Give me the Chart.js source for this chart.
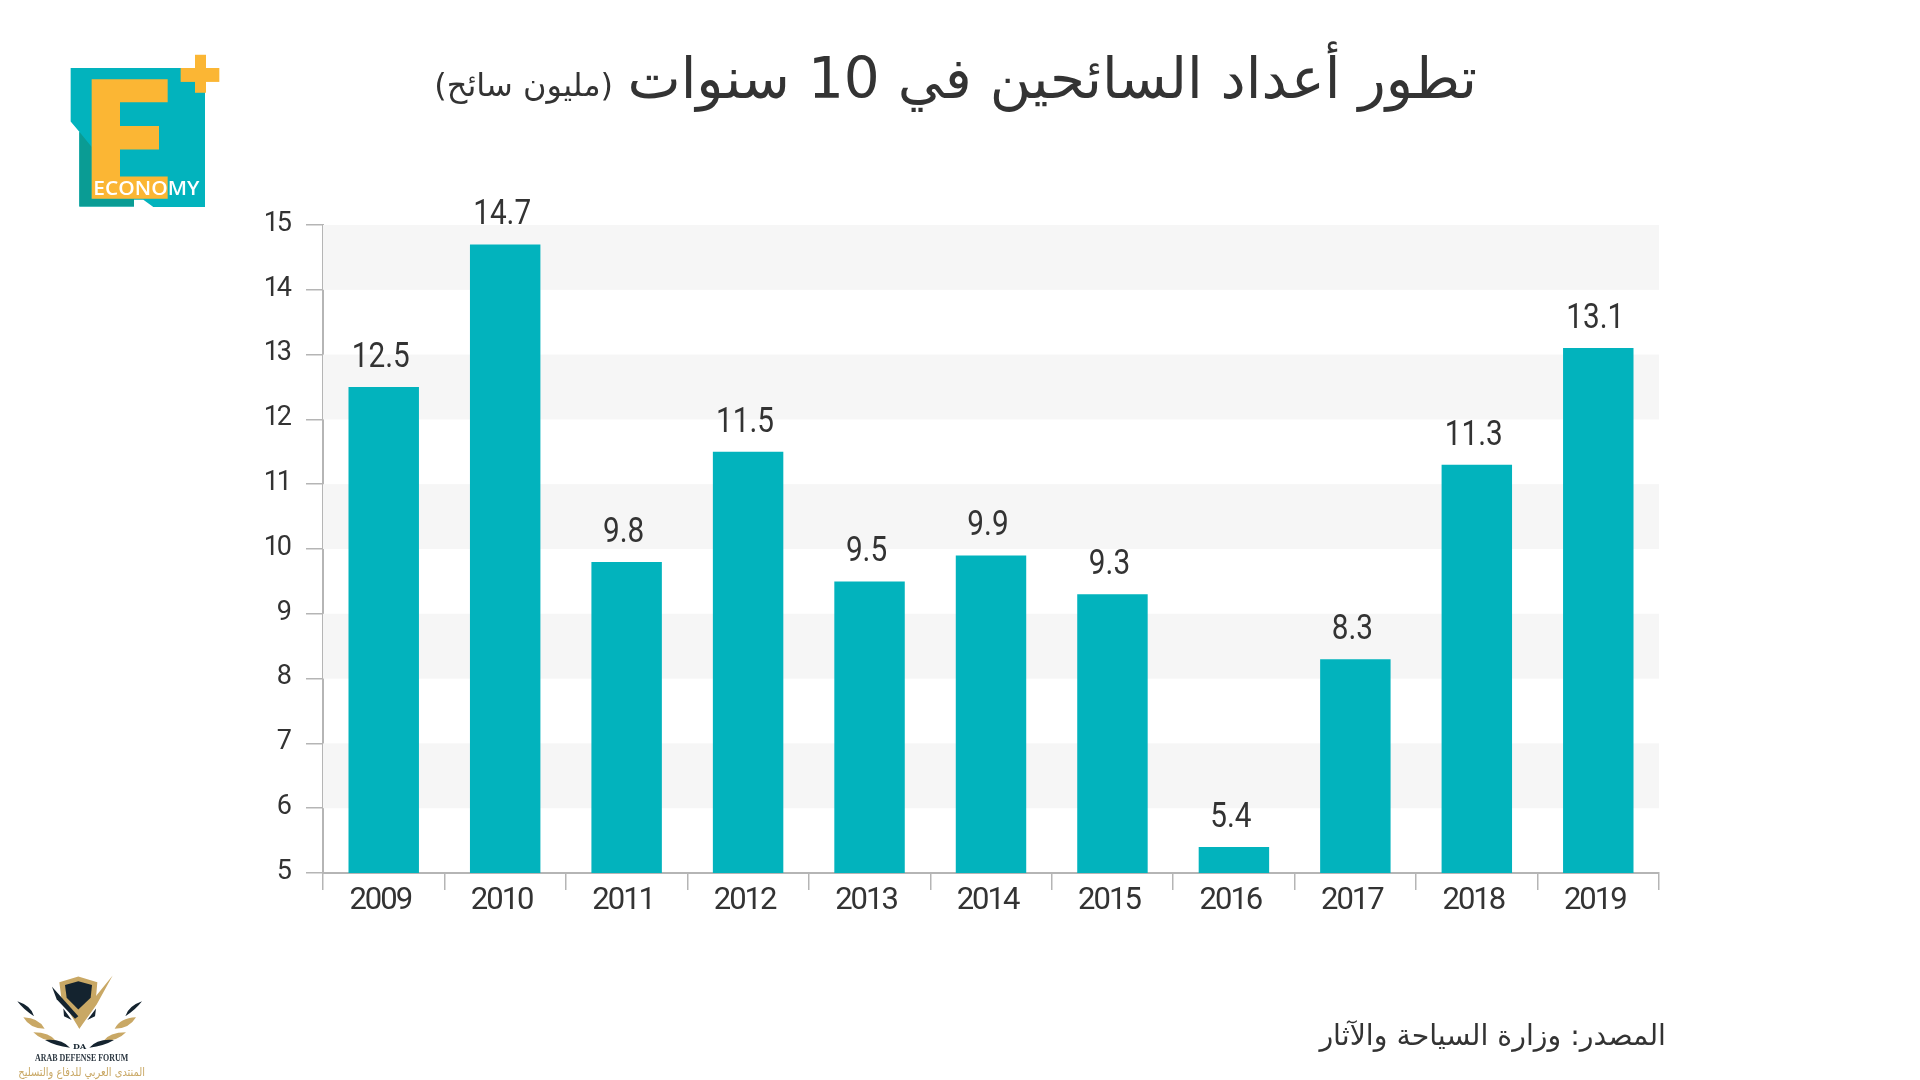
<!DOCTYPE html>
<html lang="ar">
<head>
<meta charset="utf-8">
<style>
html,body{margin:0;padding:0;background:#fff;width:1920px;height:1080px;overflow:hidden}
#c{position:absolute;left:0;top:0}
.t{position:absolute;white-space:nowrap;color:#333;font-family:"DejaVu Sans","Noto Sans",sans-serif;direction:rtl;line-height:1}
svg{position:absolute;overflow:visible}
</style>
</head>
<body>
<canvas id="c" width="1920" height="1080" style="width:1920px;height:1080px"></canvas>
<div class="t" id="title" style="right:443px;top:51px;font-size:56.5px">تطور أعداد السائحين في 10 سنوات</div>
<div class="t" id="sub" style="right:1307px;top:69px;font-size:32px">(مليون سائح)</div>
<div class="t" id="src" style="right:254px;top:1022px;font-size:28.4px">المصدر: وزارة السياحة والآثار</div>

<svg style="left:40px;top:30px" width="200" height="190" viewBox="0 0 600 560" preserveAspectRatio="none">
<polygon fill="#02b3bd" points="92,112 495,112 495,522 340,522 310,500 282,500 282,520 118,520 118,300 92,270"/>
<polygon fill="#0a9c94" points="118,300 155,345 155,497 282,497 282,520 118,520"/>
<polygon fill="#fbb634" points="155,145 383,145 383,213 240,213 240,283 357,283 357,352 240,352 240,432 383,432 383,497 155,497"/>
<rect fill="#fbb634" x="465" y="73" width="33" height="112"/>
<rect fill="#fbb634" x="422" y="112" width="116" height="41"/>
<text x="160" y="485" fill="#fff" font-family="Open Sans" font-weight="600" font-size="59" textLength="318" lengthAdjust="spacingAndGlyphs">ECONOMY</text>
</svg>

<svg style="left:0;top:940px" width="240" height="140" viewBox="0 0 720 413" preserveAspectRatio="none">
<path fill="#c9a865" d="M178 125 L235 108 L292 125 L288 170 L258 225 L238 262 L215 225 L184 170Z"/>
<path fill="#14232f" d="M195 133 L235 122 L276 133 L272 170 L235 205 L200 170Z"/>
<path fill="#c9a865" d="M338 105 L290 190 L238 262 L225 228 L280 175Z"/>
<path fill="#14232f" d="M156 138 L235 225 L225 232 L170 175Z"/>
<path fill="#14232f" d="M190 202 L215 236 L192 225Z M288 202 L262 236 L285 225Z"/>
<path fill="#14232f" d="M52 181 Q95 195 102 225 Q70 205 52 181Z M426 181 Q385 195 376 225 Q408 205 426 181Z"/>
<path fill="#c9a865" d="M70 228 Q118 230 134 262 Q90 262 70 228Z M408 228 Q360 230 344 262 Q388 262 408 228Z"/>
<path fill="#c9a865" d="M100 272 Q150 272 168 298 Q125 298 100 272Z M378 272 Q328 272 310 298 Q353 298 378 272Z"/>
<path fill="#14232f" d="M135 295 Q185 290 210 318 Q165 312 135 295Z M342 295 Q292 290 268 318 Q313 312 342 295Z"/>
<text x="239" y="322" text-anchor="middle" fill="#14232f" font-family="DejaVu Serif" font-weight="700" font-size="24">DA</text>
<text x="245" y="356" text-anchor="middle" fill="#2b3640" font-family="Liberation Serif" font-weight="700" font-size="30" textLength="280" lengthAdjust="spacingAndGlyphs">ARAB DEFENSE FORUM</text>
<text x="245" y="402" text-anchor="middle" fill="#c9a865" font-family="DejaVu Sans" font-size="35" direction="rtl" textLength="380" lengthAdjust="spacingAndGlyphs">المنتدى العربي للدفاع والتسليح</text>
</svg>

<script src="https://cdn.jsdelivr.net/npm/chart.js@4/dist/chart.umd.min.js"></script>
<script>
const categories = ["2009","2010","2011","2012","2013","2014","2015","2016","2017","2018","2019"];
const touristsMillions = [12.5,14.7,9.8,11.5,9.5,9.9,9.3,5.4,8.3,11.3,13.1];
const yMin = 5, yMax = 15, yStep = 1;

const bandsPlugin = {
  id:'bands',
  beforeDraw(chart){ chart.ctx.letterSpacing = '-2px'; },
  beforeDatasetsDraw(chart){
    const {ctx,chartArea:a,scales:{y}} = chart;
    ctx.save();
    ctx.fillStyle = '#f6f6f6';
    for(let v=yMax; v>yMin; v-=2*yStep){
      const t=y.getPixelForValue(v), b=y.getPixelForValue(v-yStep);
      ctx.fillRect(a.left,t,a.right-a.left,b-t);
    }
    ctx.restore();
  }
};
const valueLabels = {
  id:'valueLabels',
  afterDatasetsDraw(chart){
    const {ctx} = chart;
    const meta = chart.getDatasetMeta(0);
    ctx.save();
    ctx.letterSpacing = '0px';
    ctx.font = '35px Roboto, sans-serif';
    ctx.fillStyle = '#333';
    ctx.textAlign = 'center';
    ctx.textBaseline = 'alphabetic';
    meta.data.forEach((el,i)=>{
      ctx.save();
      ctx.translate(el.x-3, el.y-20);
      ctx.scale(0.85,1);
      ctx.fillText(touristsMillions[i].toFixed(1), 0, 0);
      ctx.restore();
    });
    ctx.restore();
  }
};
new Chart(document.getElementById('c'),{
  type:'bar',
  plugins:[bandsPlugin,valueLabels],
  data:{labels:categories,datasets:[{data:touristsMillions,backgroundColor:'#02b3bd',borderWidth:0,barPercentage:0.58,categoryPercentage:1}]},
  options:{
    responsive:false,animation:false,devicePixelRatio:1,
    layout:{padding:{left:0,right:261,top:225,bottom:0}},
    plugins:{legend:{display:false},tooltip:{enabled:false},title:{display:false}},
    scales:{
      x:{
        offset:true,
        afterFit(s){s.height=207;},
        border:{color:'#b5b5b5',width:2},
        grid:{offset:true,drawOnChartArea:false,drawTicks:true,tickLength:17,color:'#b5b5b5',lineWidth:1.5},
        ticks:{color:'#333',padding:-7,labelOffset:-3.5,maxRotation:0,autoSkip:false,font:{family:'Roboto',size:31}}
      },
      y:{
        min:yMin,max:yMax,
        afterFit(s){s.width=323;},
        border:{color:'#b5b5b5',width:2},
        grid:{drawOnChartArea:false,drawTicks:true,tickLength:17,color:'#b5b5b5',lineWidth:1.5},
        ticks:{stepSize:yStep,color:'#333',padding:16,labelOffset:-1,font:{family:'Roboto',size:27}}
      }
    }
  }
});
</script>
</body>
</html>
